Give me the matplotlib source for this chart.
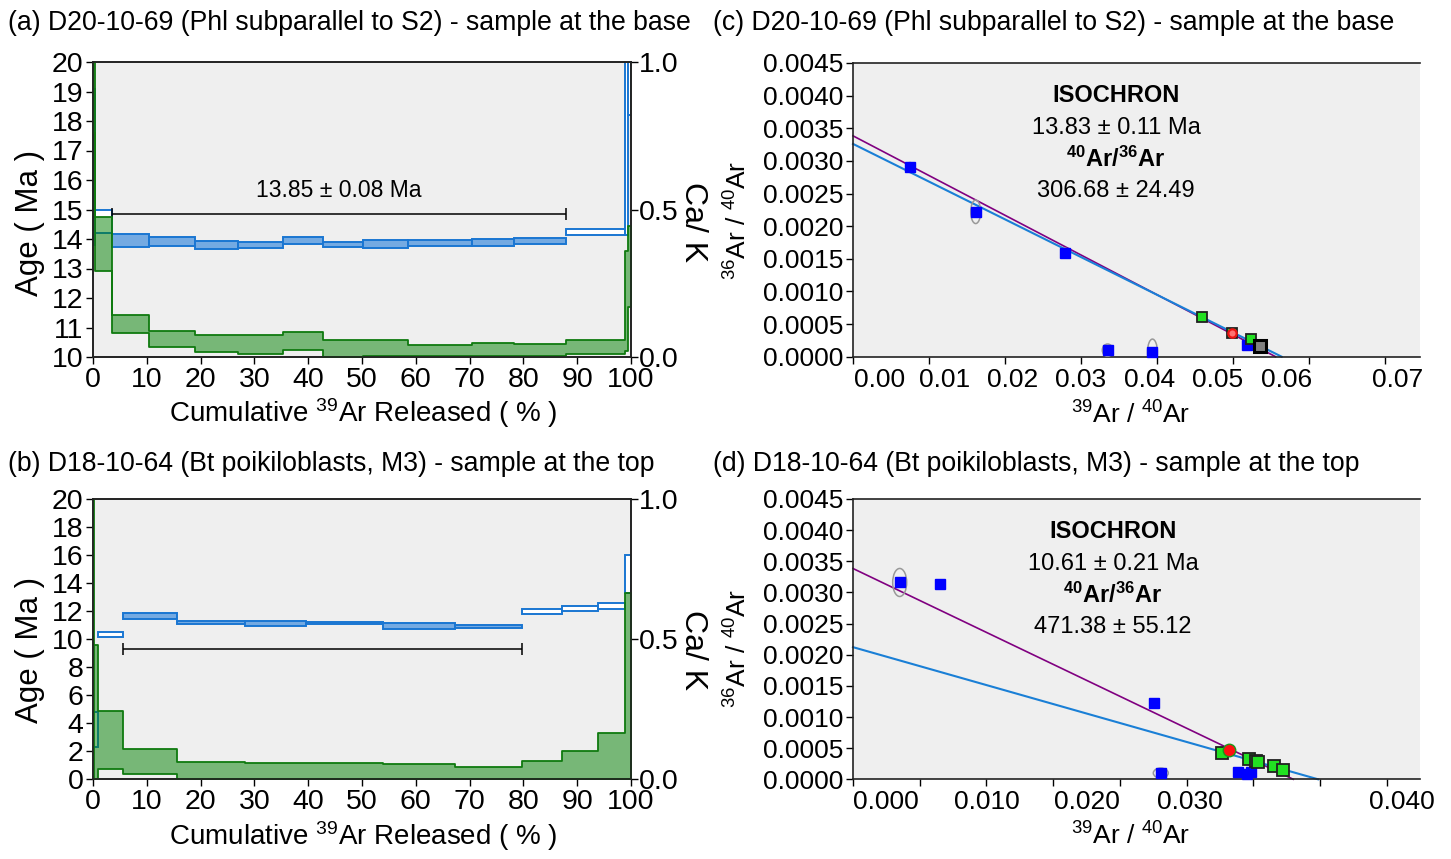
import matplotlib
matplotlib.use('Agg')
import matplotlib.pyplot as plt
from matplotlib.patches import Rectangle, Ellipse
import numpy as np

plt.rcParams['font.family'] = ['Liberation Sans', 'DejaVu Sans']
plt.rcParams['mathtext.fontset'] = 'custom'
plt.rcParams['mathtext.rm'] = 'Liberation Sans'
plt.rcParams['mathtext.it'] = 'Liberation Sans:italic'
plt.rcParams['mathtext.bf'] = 'Liberation Sans:bold'

# ---------------- data: age spectrum (a) ----------------
A_edges = [0, 0.3, 3.6, 10.5, 19.0, 27.0, 35.3, 42.8, 50.2, 58.5, 70.4, 78.2, 88.0, 98.8, 99.4, 100]
A_age_lo = [13.8, 14.21, 13.72, 13.77, 13.67, 13.69, 13.83, 13.74, 13.70, 13.76, 13.77, 13.82, 14.14, 14.14, 18.2]
A_age_hi = [19.1, 15.0, 14.17, 14.06, 13.94, 13.91, 14.06, 13.91, 13.97, 13.95, 13.99, 14.02, 14.35, 24.0, 24.0]
A_plateau = [0, 0, 1, 1, 1, 1, 1, 1, 1, 1, 1, 1, 0, 0, 0]
A_cak_edges = A_edges
A_cak_lo = [0.76, 0.293, 0.080, 0.034, 0.017, 0.011, 0.023, 0.0, 0.005, 0.002, 0.002, 0.002, 0.011, 0.02, 0.170]
A_cak_hi = [1.2, 0.476, 0.142, 0.089, 0.075, 0.073, 0.085, 0.059, 0.059, 0.040, 0.049, 0.043, 0.057, 0.36, 0.443]
A_plateau_range = [3.6, 88.0]
A_plateau_level = 14.85
A_plateau_text = "13.85 ± 0.08 Ma"

# ---------------- data: age spectrum (b) ----------------
B_edges = [0, 1.0, 5.5, 15.7, 28.2, 39.5, 53.9, 67.2, 79.8, 87.1, 93.8, 98.8, 100]
B_age_lo = [2.33, 10.19, 11.43, 11.09, 10.95, 11.07, 10.71, 10.79, 11.81, 12.02, 12.14, 13.29]
B_age_hi = [4.83, 10.54, 11.86, 11.31, 11.31, 11.26, 11.14, 11.02, 12.14, 12.38, 12.57, 16.02]
B_plateau = [0, 0, 1, 1, 1, 1, 1, 1, 0, 0, 0, 0]
B_cak_edges = [0, 0.25, 1.0, 5.5, 15.7, 28.2, 39.5, 53.9, 67.2, 79.8, 87.1, 93.8, 98.8, 100]
B_cak_lo = [0.48, 0.0, 0.036, 0.019, 0.0, 0.0, 0.0, 0.0, 0.0, 0.0, 0.0, 0.0, 0.0]
B_cak_hi = [1.2, 0.48, 0.245, 0.109, 0.062, 0.059, 0.057, 0.054, 0.044, 0.067, 0.102, 0.165, 0.667]
B_plateau_range = [5.5, 79.8]
B_plateau_level = 9.33

# ---------------- data: isochron (c) ----------------
C_blue_x = [0.0075, 0.01614, 0.0279, 0.0335, 0.0394, 0.0519]
C_blue_y = [0.00290, 0.00222, 0.00159, 0.00010, 0.00007, 0.00018]
C_err_x = [0.0009, 0.0013, 0.0009, 0.0014, 0.0013, 0.0]
C_err_y = [0.00015, 0.00036, 0.00015, 0.00019, 0.00040, 0.0]
C_green_x = [0.0459, 0.0498, 0.0524]
C_green_y = [0.00061, 0.00037, 0.00027]
C_gray_x = [0.0535]
C_gray_y = [0.00017]
C_red_x = [0.0498]
C_red_y = [0.00037]
C_atm_int, C_atm_xint = 1 / 295.5, 0.0556
C_iso_int, C_iso_xint = 1 / 306.68, 0.0564
C_xticks = [0.00, 0.01, 0.02, 0.03, 0.04, 0.05, 0.06, 0.07]
C_xticklabels = ['0.00', '0.01', '0.02', '0.03', '0.04', '0.05', '0.06', '0.07']
C_age_text = "13.83 ± 0.11 Ma"
C_ratio_text = "306.68 ± 24.49"

# ---------------- data: isochron (d) ----------------
D_blue_x = [0.0035, 0.0065, 0.02254, 0.02307, 0.02886, 0.02956, 0.02986]
D_blue_y = [0.00316, 0.00314, 0.00123, 0.00010, 0.00012, 0.00009, 0.00011]
D_err_x = [0.00105, 0.00045, 0.0004, 0.00112, 0.0006, 0.0, 0.0]
D_err_y = [0.00045, 0.0001, 0.0001, 0.00016, 0.00006, 0.0, 0.0]
D_green_x = [0.02769, 0.02969, 0.03019, 0.03036, 0.03156, 0.03223]
D_green_y = [0.00043, 0.00033, 0.00029, 0.00028, 0.00022, 0.00015]
D_red_x = [0.02819]
D_red_y = [0.00047]
D_atm_int, D_atm_xint = 1 / 295.5, 0.0330
D_iso_int, D_iso_xint = 1 / 471.38, 0.03486
D_xticks = [0.000, 0.010, 0.020, 0.030, 0.040]
D_xticklabels = ['0.000', '0.010', '0.020', '0.030', '0.040']
D_age_text = "10.61 ± 0.21 Ma"
D_ratio_text = "471.38 ± 55.12"

# ---------------- figure ----------------
W, H = 1451, 859
fig = plt.figure(figsize=(W / 100, H / 100), dpi=100)
BG = '#efefef'
BLUE_EDGE = '#1a76d2'
BLUE_FILL = '#74aae2'
GREEN_EDGE = '#0f7a0f'


def box(x0, y0, x1, y1):
    return [x0 / W, 1 - y1 / H, (x1 - x0) / W, (y1 - y0) / H]


def fxy(x, y):
    return (x / W, 1 - y / H)


def spectrum(bx, edges, lo, hi, plateau, cedges, clo, chi, ylim, yticks,
             prange, plevel, ptext=None):
    ax = fig.add_axes(bx)
    ax.set_facecolor(BG)
    ax.set_xlim(0, 100)
    ax.set_ylim(*ylim)
    for i in range(len(lo)):
        fc = BLUE_FILL if plateau[i] else 'white'
        ax.add_patch(Rectangle((edges[i], lo[i]), edges[i + 1] - edges[i], hi[i] - lo[i],
                               facecolor=fc, edgecolor=BLUE_EDGE, lw=1.4, zorder=2))
    ax.errorbar([(prange[0] + prange[1]) / 2], [plevel], xerr=[(prange[1] - prange[0]) / 2],
                fmt='none', ecolor='black', capsize=4, elinewidth=1.1, capthick=1.1, zorder=4)
    if ptext:
        ax.text(45.7, 15.66, ptext, ha='center', va='center', fontsize=16.5)
    ax.set_xticks(range(0, 101, 10))
    ax.set_yticks(yticks)
    ax.tick_params(direction='out', length=5, width=1, labelsize=20.5, pad=2)
    ax2 = ax.twinx()
    ax2.set_ylim(0, 1)
    ce = np.array(cedges, dtype=float)
    l2 = np.append(clo, clo[-1])
    h2 = np.append(chi, chi[-1])
    ax2.fill_between(ce, l2, h2, step='post', facecolor=(0, 0.5, 0, 0.5),
                     edgecolor=GREEN_EDGE, lw=1.3, zorder=1)
    ax2.set_yticks([0, 0.5, 1.0])
    ax2.set_yticklabels(['0.0', '0.5', '1.0'])
    ax2.tick_params(direction='out', length=5, width=1, labelsize=20.5, pad=1)
    for a in (ax, ax2):
        for s in a.spines.values():
            s.set_color('#222222')
            s.set_linewidth(1.2)
    return ax


def isochron(bx, xlim, xmajor, xlabels, label_px, label_py, xminor,
             blue_x, blue_y, ex, ey, green_x, green_y, gms, red_x, red_y, red_style,
             atm, iso, gray=None):
    ax = fig.add_axes(bx)
    ax.set_facecolor(BG)
    ax.set_xlim(*xlim)
    ax.set_ylim(0, 0.0045)
    ax.spines['right'].set_visible(False)
    for s in ax.spines.values():
        s.set_color('#222222')
        s.set_linewidth(1.2)
    ax.set_xticks(xmajor)
    ax.set_xticklabels([])
    if xminor is not None:
        ax.set_xticks(xminor, minor=True)
    # x tick labels sit where the reference figure placed them
    for px_, lab in zip(label_px, xlabels):
        fig.text(*fxy(px_, label_py), lab, fontsize=19, ha='center', va='center')
    yt = np.arange(0, 0.00451, 0.0005)
    ax.set_yticks(yt)
    ax.set_yticklabels(['%.4f' % v for v in yt])
    ax.tick_params(which='both', direction='out', length=5, width=1, labelsize=19, pad=2)
    # reference lines
    ax.plot([0, atm[1]], [atm[0], 0], color='#800080', lw=1.2, zorder=2, clip_on=False)
    ax.plot([0, iso[1]], [iso[0], 0], color='#1a7fd6', lw=1.5, zorder=2, clip_on=False)
    for x, y, w, h in zip(blue_x, blue_y, ex, ey):
        if w > 0:
            ax.add_patch(Ellipse((x, y), w, h, facecolor='none', edgecolor='#999999', lw=1.1, zorder=3))
    ax.plot(blue_x, blue_y, 's', color='#0000ff', ms=7, mec='#0000ff', zorder=4, clip_on=False)
    ax.plot(green_x, green_y, 's', color='#22e022', ms=gms, mec='#202020', mew=1.3, zorder=4, clip_on=False)
    if gray is not None:
        ax.plot(gray[0], gray[1], 's', color='#808080', ms=8.5, mec='black', mew=2.2, zorder=5, clip_on=False)
    ax.plot(red_x, red_y, 'o', zorder=6, **red_style)
    return ax


# panels (a) and (b)
spectrum(box(93, 62, 631, 357), A_edges, A_age_lo, A_age_hi, A_plateau,
         A_cak_edges, A_cak_lo, A_cak_hi, (10, 20), range(10, 21),
         A_plateau_range, A_plateau_level, A_plateau_text)
spectrum(box(93, 499.3, 631, 779.3), B_edges, B_age_lo, B_age_hi, B_plateau,
         B_cak_edges, B_cak_lo, B_cak_hi, (0, 20), range(0, 21, 2),
         B_plateau_range, B_plateau_level)

# panels (c) and (d)
isochron(box(853, 63, 1420, 356.7), (0, 0.0746), C_xticks, C_xticklabels,
         [880, 945, 1013, 1081, 1150, 1218, 1287, 1398], 380, None,
         C_blue_x, C_blue_y, C_err_x, C_err_y, C_green_x, C_green_y, 6.5, C_red_x, C_red_y,
         dict(ms=6, mfc='#ff7070', mec='#ee1111', mew=1.6),
         (C_atm_int, C_atm_xint), (C_iso_int, C_iso_xint), gray=(C_gray_x, C_gray_y))
isochron(box(853, 499, 1420, 779.3), (0, 0.0425), D_xticks, D_xticklabels,
         [886, 987, 1087, 1190, 1402], 802, np.arange(0.005, 0.0401, 0.01),
         D_blue_x, D_blue_y, D_err_x, D_err_y, D_green_x, D_green_y, 8.5, D_red_x, D_red_y,
         dict(ms=9, mfc='#ff1010', mec='#1a9a1a', mew=1.0),
         (D_atm_int, D_atm_xint), (D_iso_int, D_iso_xint))

# titles
TFS = 19.2
fig.text(*fxy(8, 23), '(a) D20-10-69 (Phl subparallel to S2) - sample at the base', fontsize=TFS, va='center', ha='left')
fig.text(*fxy(8, 464), '(b) D18-10-64 (Bt poikiloblasts, M3) - sample at the top', fontsize=TFS, va='center', ha='left')
fig.text(*fxy(713, 23), '(c) D20-10-69 (Phl subparallel to S2) - sample at the base', fontsize=TFS, va='center', ha='left')
fig.text(*fxy(713, 464), '(d) D18-10-64 (Bt poikiloblasts, M3) - sample at the top', fontsize=TFS, va='center', ha='left')

# spectrum axis labels
for yc, xl in ((223, 413), (650, 836)):
    fig.text(*fxy(30, yc), 'Age ( Ma )', rotation=90, fontsize=22.5, ha='center', va='center')
    fig.text(*fxy(363, xl), r'Cumulative $^{39}$Ar Released ( % )', fontsize=20, ha='center', va='center')
for yc in (222, 650):
    fig.text(*fxy(693, yc), 'Ca/ K', rotation=270, fontsize=23, ha='center', va='center')

# isochron axis labels and annotations
for yc, xl in ((220, 415), (648, 836)):
    fig.text(*fxy(738, yc), r'$^{36}$Ar / $^{40}$Ar', rotation=90, fontsize=19, ha='center', va='center')
    fig.text(*fxy(1131, xl), r'$^{39}$Ar / $^{40}$Ar', fontsize=19, ha='center', va='center')

for (cx, y0), agt, rt in (((1116, 96), C_age_text, C_ratio_text), ((1113, 532), D_age_text, D_ratio_text)):
    fig.text(*fxy(cx, y0), 'ISOCHRON', fontsize=17, fontweight='bold', ha='center', va='center')
    fig.text(*fxy(cx, y0 + 32), agt, fontsize=17, ha='center', va='center')
    fig.text(*fxy(cx, y0 + 63), r'$\mathbf{^{40}Ar/^{36}Ar}$', fontsize=17, ha='center', va='center')
    fig.text(*fxy(cx, y0 + 95), rt, fontsize=17, ha='center', va='center')

fig.savefig('out.png', dpi=100, facecolor='white')
